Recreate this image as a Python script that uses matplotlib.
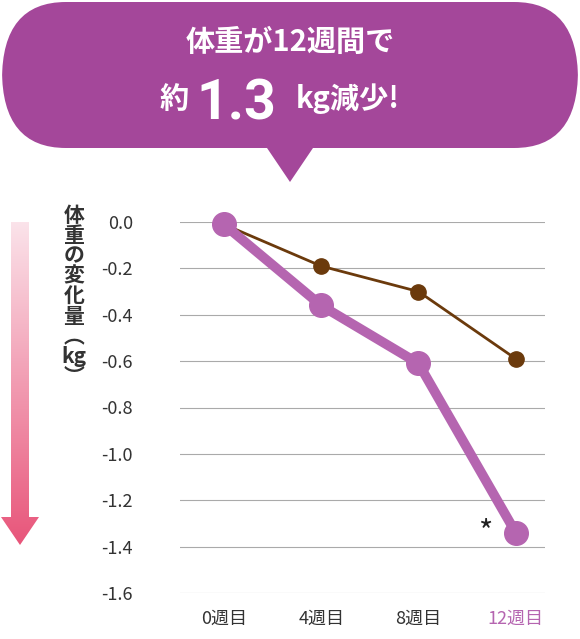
import matplotlib
matplotlib.use("Agg")
import matplotlib.pyplot as plt
import numpy as np
from matplotlib.patches import FancyBboxPatch, Polygon

plt.rcParams['font.family'] = ['Noto Sans CJK JP', 'DejaVu Sans']

weeks = ["0週目", "4週目", "8週目", "12週目"]
treat = [-0.01, -0.36, -0.61, -1.34]
placebo = [-0.01, -0.19, -0.30, -0.59]
yticks = [0.0, -0.2, -0.4, -0.6, -0.8, -1.0, -1.2, -1.4, -1.6]

PURPLE = "#a4479a"
LINE_P = "#b565b0"
BROWN = "#6b3a0c"

fig = plt.figure(figsize=(5.8, 6.39), dpi=100)
W, H = 580, 639

def fx(px):
    return px / W

def fy(py):
    return 1 - py / H

# plot area: x 180..545, y 222 (0.0) .. 593 (-1.6)
ax = fig.add_axes([fx(180), fy(593), fx(545) - fx(180), fy(222) - fy(593)])
x = np.arange(len(weeks))
ax.set_xlim(-0.45, 3.3)
ax.set_ylim(-1.6, 0.0)
ax.set_yticks(yticks)
ax.set_yticklabels([f"{v:.1f}" for v in yticks], fontsize=13, color="#333333")
ax.yaxis.set_tick_params(length=0, pad=34)
ax.set_xticks(x)
ax.set_xticklabels(weeks, fontsize=13, color="#333333")
ax.get_xticklabels()[-1].set_color(LINE_P)
ax.xaxis.set_tick_params(length=0, pad=12)
ax.grid(axis="y", color="#aaaaaa", lw=0.8)
for s in ax.spines.values():
    s.set_visible(False)
ax.set_clip_on(False)

ax.plot(x, placebo, color=BROWN, lw=2, marker="o", ms=11, zorder=3, clip_on=False)
ax.plot(x, treat, color=LINE_P, lw=7, marker="o", ms=17, zorder=4, clip_on=False)
ax.text(2.68, -1.34, "*", fontsize=22, ha="center", va="center", color="#222222")

# speech bubble
bub = FancyBboxPatch((fx(2), fy(148)), fx(576), fy(2) - fy(148),
                     boxstyle="round,pad=0,rounding_size=0.11",
                     transform=fig.transFigure, fc=PURPLE, ec="none",
                     mutation_aspect=H / W)
fig.patches.append(bub)
fig.patches.append(Polygon([(fx(265), fy(145)), (fx(315), fy(145)), (fx(290), fy(182))],
                           closed=True, transform=fig.transFigure, fc=PURPLE, ec="none"))
fig.text(0.5, fy(42), "体重が12週間で", color="white", fontsize=21, fontweight="bold",
         ha="center", va="center")
fig.text(fx(160), fy(108), "約", color="white", fontsize=21, fontweight="bold", ha="left", va="baseline")
fig.text(fx(196), fy(120), "1.3", color="white", fontsize=40, fontweight="bold", ha="left", va="baseline",
         family=["Roboto", "DejaVu Sans"])
fig.text(fx(296), fy(108), "kg減少!", color="white", fontsize=21, fontweight="bold", ha="left", va="baseline")

# gradient arrow
gax = fig.add_axes([fx(0), fy(545), fx(40), fy(222) - fy(545)])
grad = np.linspace(0, 1, 256).reshape(-1, 1)
from matplotlib.colors import LinearSegmentedColormap
cmap = LinearSegmentedColormap.from_list("g", ["#fbe3ea", "#e8557a"])
gax.imshow(grad, aspect="auto", cmap=cmap, extent=[0, 40, 323, 0])
gax.add_patch(Polygon([[11, 0], [29, 0], [29, 295], [11, 295]], closed=True, fc="none", ec="none"))
gax.images[0].set_clip_path(Polygon([[11, 0], [29, 0], [29, 295], [39, 295], [20, 323], [1, 295], [11, 295]],
                                    closed=True, transform=gax.transData))
gax.set_xlim(0, 40)
gax.set_ylim(323, 0)
gax.axis("off")

ylab = "体\n重\nの\n変\n化\n量\n︵\nkg\n︶"
fig.text(fx(74), fy(205), ylab, fontsize=15, fontweight="bold", color="#333333",
         ha="center", va="top", linespacing=0.95)

fig.savefig("out.png", dpi=100)
